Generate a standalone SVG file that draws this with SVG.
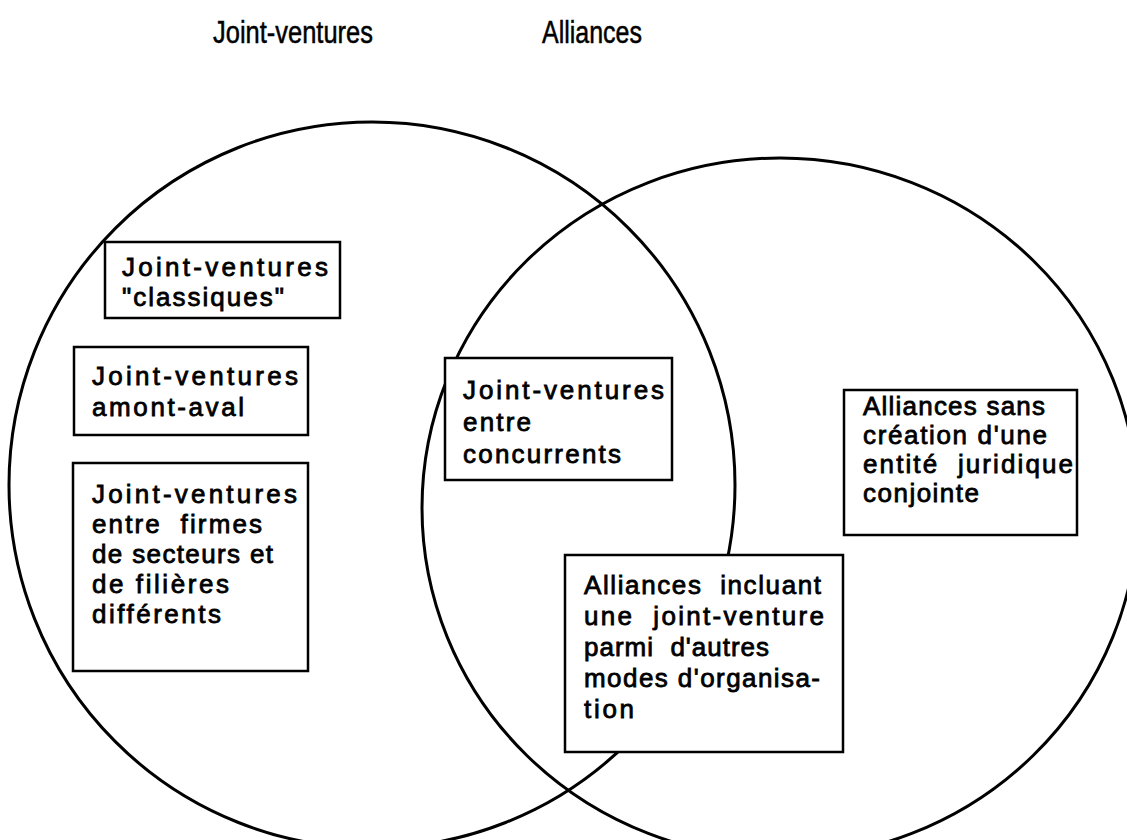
<svg xmlns="http://www.w3.org/2000/svg" width="1127" height="840" viewBox="0 0 1127 840">
<style>
.c{fill:none;stroke:#000;stroke-width:3}
.b{fill:#fff;stroke:#000;stroke-width:2.5}
.t{font-family:"Liberation Sans",Arial,sans-serif;font-size:26px;fill:#000;stroke:#000;stroke-width:0.8}
.h{font-family:"Liberation Sans",Arial,sans-serif;font-size:31px;fill:#000;stroke:#000;stroke-width:0.5}
</style>
<rect width="1127" height="840" fill="#fff"/>
<g id="titles">
<text class="h" x="213" y="43" textLength="160" lengthAdjust="spacingAndGlyphs">Joint-ventures</text>
<text class="h" x="542" y="43" textLength="100" lengthAdjust="spacingAndGlyphs">Alliances</text>
</g>
<g id="sets">
<ellipse id="set-jv" class="c" cx="372" cy="485" rx="363" ry="363"/>
<ellipse id="set-al" class="c" cx="780" cy="508" rx="358" ry="350"/>
</g>
<g id="box-classiques">
<rect class="b" x="105" y="242" width="235" height="76"/>
<text class="t" x="122" y="276" textLength="206" lengthAdjust="spacing">Joint-ventures</text>
<text class="t" x="122" y="306" textLength="162" lengthAdjust="spacing">"classiques"</text>
</g>
<g id="box-amont-aval">
<rect class="b" x="74" y="347" width="234" height="88"/>
<text class="t" x="92" y="385" textLength="206" lengthAdjust="spacing">Joint-ventures</text>
<text class="t" x="92" y="416" textLength="152" lengthAdjust="spacing">amont-aval</text>
</g>
<g id="box-secteurs">
<rect class="b" x="73" y="463" width="235" height="208"/>
<text class="t" x="92" y="503" textLength="205" lengthAdjust="spacing">Joint-ventures</text>
<text class="t" x="92" y="533" textLength="170" lengthAdjust="spacing" xml:space="preserve">entre  firmes</text>
<text class="t" x="92" y="563" textLength="181" lengthAdjust="spacing">de secteurs et</text>
<text class="t" x="92" y="593" textLength="137" lengthAdjust="spacing">de filières</text>
<text class="t" x="92" y="623" textLength="129" lengthAdjust="spacing">différents</text>
</g>
<g id="box-concurrents">
<rect class="b" x="445" y="358" width="227" height="122"/>
<text class="t" x="463" y="399" textLength="201" lengthAdjust="spacing">Joint-ventures</text>
<text class="t" x="463" y="431" textLength="68" lengthAdjust="spacing">entre</text>
<text class="t" x="463" y="463" textLength="158" lengthAdjust="spacing">concurrents</text>
</g>
<g id="box-sans-entite">
<rect class="b" x="844" y="390" width="233" height="145"/>
<text class="t" x="863" y="415" textLength="182" lengthAdjust="spacing">Alliances sans</text>
<text class="t" x="863" y="444" textLength="184" lengthAdjust="spacing">création d'une</text>
<text class="t" x="863" y="473" textLength="210" lengthAdjust="spacing" xml:space="preserve">entité  juridique</text>
<text class="t" x="863" y="502" textLength="116" lengthAdjust="spacing">conjointe</text>
</g>
<g id="box-incluant">
<rect class="b" x="565" y="555" width="278" height="197"/>
<text class="t" x="584" y="594" textLength="237" lengthAdjust="spacing" xml:space="preserve">Alliances  incluant</text>
<text class="t" x="584" y="625" textLength="240" lengthAdjust="spacing" xml:space="preserve">une  joint-venture</text>
<text class="t" x="584" y="656" textLength="185" lengthAdjust="spacing" xml:space="preserve">parmi  d'autres</text>
<text class="t" x="584" y="687" textLength="236" lengthAdjust="spacing">modes d'organisa-</text>
<text class="t" x="584" y="718" textLength="50" lengthAdjust="spacing">tion</text>
</g>
</svg>
